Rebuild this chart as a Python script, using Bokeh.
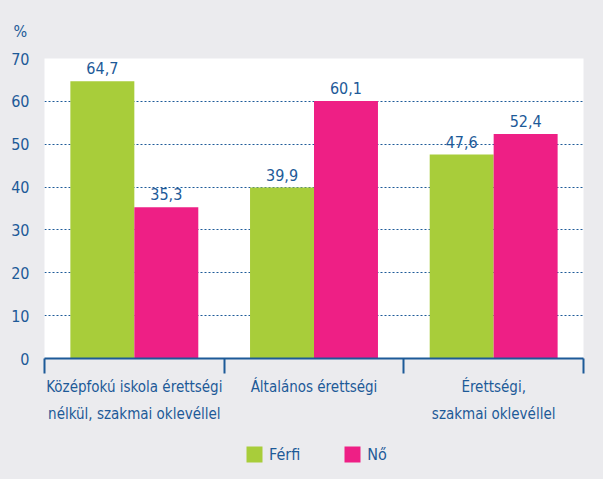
from bokeh.plotting import figure
from bokeh.layouts import column
from bokeh.models import Range1d, FixedTicker, Legend, LegendItem, ColumnDataSource
from bokeh.core.properties import value
from bokeh.embed import file_html
from bokeh.resources import INLINE

categories = ["Középfokú iskola érettségi\nnélkül, szakmai oklevéllel",
              "Általános érettségi",
              "Érettségi,\nszakmai oklevéllel"]
ferfi = [64.7, 39.9, 47.6]
no = [35.3, 60.1, 52.4]
series_names = ["Férfi", "Nő"]
y_ticks = [0, 10, 20, 30, 40, 50, 60, 70]

FONT = "DejaVu Sans Condensed"
BLUE = "#1d5a98"
GREEN = "#a8cd3a"
PINK = "#ee1f85"
BG = "#ebebee"

p = figure(width=603, height=425, output_backend="svg", toolbar_location=None,
           x_range=Range1d(0, 3), y_range=Range1d(0, 70),
           min_border_left=44, min_border_right=20, min_border_top=58, min_border_bottom=67,
           title="%", styles={"background-color": BG})
p.background_fill_color = "white"
p.border_fill_color = BG
p.outline_line_color = None

p.title.text_color = BLUE
p.title.text_font = FONT
p.title.text_font_size = "16px"
p.title.text_font_style = "normal"
p.title.align = "left"
p.title.offset = -31
p.title.standoff = 35

bw = 0.356
idx = list(range(len(categories)))
src_f = ColumnDataSource(dict(x=[i + 0.5 - bw / 2 for i in idx], top=ferfi,
                              lab=[f"{v:.1f}".replace(".", ",") for v in ferfi]))
src_n = ColumnDataSource(dict(x=[i + 0.5 + bw / 2 for i in idx], top=no,
                              lab=[f"{v:.1f}".replace(".", ",") for v in no]))

p.vbar(x="x", top="top", width=bw, bottom=0, source=src_f, fill_color=GREEN, line_color=None)
p.vbar(x="x", top="top", width=bw, bottom=0, source=src_n, fill_color=PINK, line_color=None)

for s in (src_f, src_n):
    p.text(x="x", y="top", text="lab", source=s, text_align="center", text_baseline="bottom",
           y_offset=-7, text_color=BLUE, text_font=value(FONT), text_font_size="16px")

# y axis
p.yaxis.ticker = FixedTicker(ticks=y_ticks)
p.yaxis.axis_line_color = None
p.yaxis.major_tick_line_color = None
p.yaxis.major_tick_out = 0
p.yaxis.major_tick_in = 0
p.yaxis.minor_tick_line_color = None
p.yaxis.major_label_standoff = 15
p.yaxis.major_label_text_color = BLUE
p.yaxis.major_label_text_font = FONT
p.yaxis.major_label_text_font_size = "16px"

p.ygrid.ticker = FixedTicker(ticks=[10, 20, 30, 40, 50, 60])
p.ygrid.grid_line_color = BLUE
p.ygrid.grid_line_dash = "2 2"
p.ygrid.grid_line_width = 1
p.xgrid.grid_line_color = None

# x axis
p.xaxis.ticker = FixedTicker(ticks=[i + 0.5 for i in idx], minor_ticks=[0, 1, 2, 3])
p.xaxis.major_label_overrides = {i + 0.5: c for i, c in zip(idx, categories)}
p.xaxis.axis_line_color = BLUE
p.xaxis.axis_line_width = 2
p.xaxis.major_tick_line_color = None
p.xaxis.minor_tick_line_color = BLUE
p.xaxis.minor_tick_line_width = 2
p.xaxis.minor_tick_out = 15
p.xaxis.minor_tick_in = 0
p.xaxis.major_label_standoff = 4
p.xaxis.major_label_text_color = BLUE
p.xaxis.major_label_text_font = FONT
p.xaxis.major_label_text_font_size = "15px"
p.xaxis.major_label_text_line_height = 1.5

# legend strip below the chart
p2 = figure(width=603, height=54, output_backend="svg", toolbar_location=None,
            x_range=Range1d(0, 1), y_range=Range1d(0, 1), min_border=0,
            styles={"background-color": BG})
p2.background_fill_color = BG
p2.border_fill_color = BG
p2.outline_line_color = None
p2.axis.visible = False
p2.grid.visible = False
g1 = p2.vbar(x=[0.5], top=[0], bottom=[0], width=0.1, fill_color=GREEN, line_color=None)
g2 = p2.vbar(x=[0.5], top=[0], bottom=[0], width=0.1, fill_color=PINK, line_color=None)
legend = Legend(items=[LegendItem(label=series_names[0], renderers=[g1]),
                       LegendItem(label=series_names[1], renderers=[g2])],
                orientation="horizontal", location=(200, 15),
                glyph_width=20, glyph_height=20, label_text_color=BLUE,
                label_text_font=FONT, label_text_font_size="16px",
                spacing=42, background_fill_alpha=0, border_line_color=None,
                margin=0, padding=4)
p2.add_layout(legend)

layout = column(p, p2, spacing=0, styles={"background-color": BG})
open("out.html", "w").write(file_html(layout, INLINE))
